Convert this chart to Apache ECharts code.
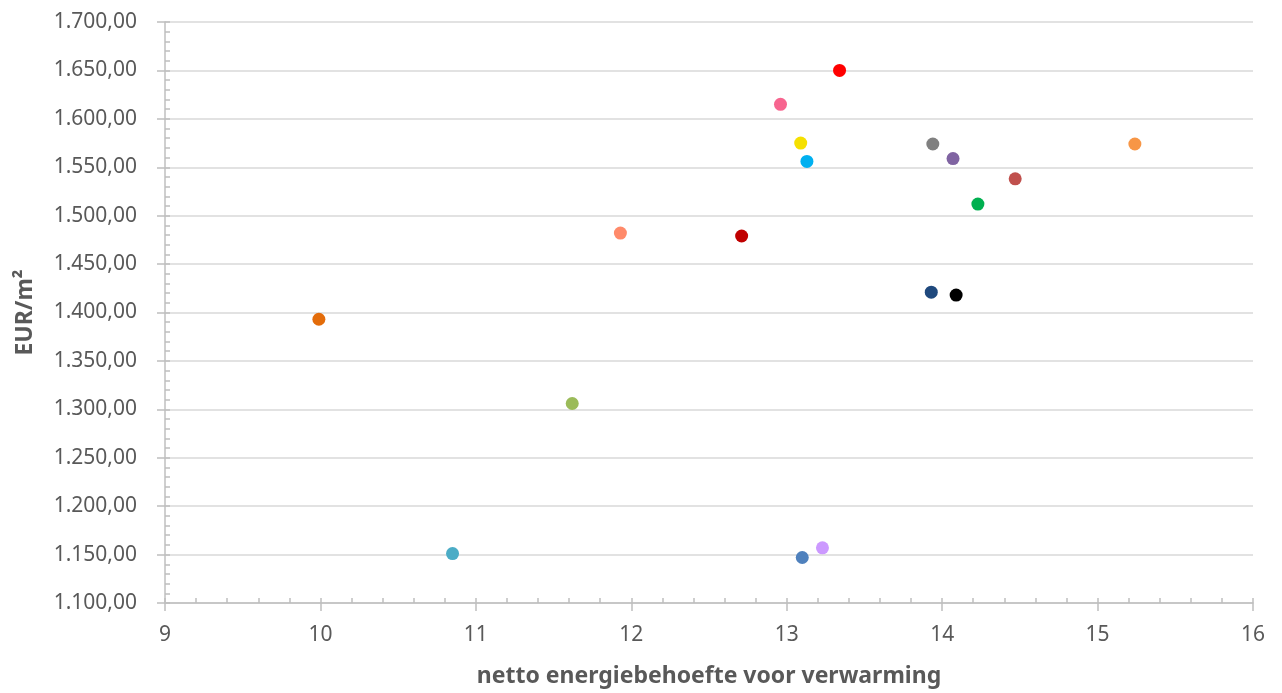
<!DOCTYPE html>
<html>
<head>
<meta charset="utf-8">
<script src="https://cdn.jsdelivr.net/npm/echarts@6/dist/echarts.min.js"></script>
<style>
html,body{margin:0;padding:0;background:#fff;}
#chart{width:1282px;height:693px;}
</style>
</head>
<body>
<div id="chart"></div>
<script>
// x: netto energiebehoefte voor verwarming, y: EUR/m2
const xValues = [9.99, 10.85, 11.62, 11.93, 12.71, 12.96, 13.09, 13.13, 13.34, 13.10, 13.23, 13.94, 13.93, 14.09, 14.07, 14.23, 14.47, 15.24];
const yValues = [1393, 1151, 1306, 1482, 1479, 1615, 1575, 1556, 1650, 1147, 1157, 1574, 1421, 1418, 1559, 1512, 1538, 1574];
const pointColors = ['#E36C0A', '#4BACC6', '#9BBB59', '#FF8A6A', '#C00000', '#F7658F', '#F5E000', '#00B0F0', '#FF0000', '#4F81BD', '#CC99FF', '#808080', '#1F497D', '#000000', '#8064A2', '#00B050', '#C0504D', '#F79646'];
const xTitle = 'netto energiebehoefte voor verwarming';
const yTitle = 'EUR/m²';

const FONT = '"Noto Sans", sans-serif';
const TXT = '#595959';

function fmtNL(v) {
  const fixed = v.toFixed(2);
  const parts = fixed.split('.');
  const intPart = parts[0].replace(/\B(?=(\d{3})+(?!\d))/g, '.');
  return intPart + ',' + parts[1];
}

const series = xValues.map((x, i) => ({
  type: 'scatter',
  name: 'Reeks ' + (i + 1),
  xAxisIndex: 0,
  yAxisIndex: 0,
  symbol: 'circle',
  symbolSize: 13,
  itemStyle: { color: pointColors[i], opacity: 1 },
  data: [[x, yValues[i]]]
}));

const option = {
  backgroundColor: '#ffffff',
  animation: false,
  grid: { left: 165, right: 29, top: 22, bottom: 85, containLabel: false },
  xAxis: [
    {
      type: 'value', min: 9, max: 16, interval: 1, position: 'bottom',
      name: xTitle, nameLocation: 'middle', nameGap: 62,
      nameTextStyle: { fontFamily: FONT, fontSize: 23, fontWeight: 'bold', color: TXT },
      axisLine: { show: true, onZero: false, lineStyle: { color: '#BFBFBF', width: 1.5 } },
      axisTick: { show: true, inside: false, length: 8, lineStyle: { color: '#BFBFBF', width: 1.5 } },
      axisLabel: { fontFamily: FONT, fontSize: 21, color: TXT, margin: 22 },
      splitLine: { show: false }
    },
    {
      type: 'value', min: 9, max: 16, interval: 0.2, position: 'bottom',
      axisLine: { show: false, onZero: false },
      axisTick: { show: true, inside: true, length: 5, lineStyle: { color: '#BFBFBF', width: 1.5 } },
      axisLabel: { show: false },
      splitLine: { show: false }
    }
  ],
  yAxis: [
    {
      type: 'value', min: 1100, max: 1700, interval: 50, position: 'left',
      name: yTitle, nameLocation: 'middle', nameGap: 128,
      nameTextStyle: { fontFamily: FONT, fontSize: 23, fontWeight: 'bold', color: TXT },
      axisLine: { show: true, onZero: false, lineStyle: { color: '#BFBFBF', width: 1.5 } },
      axisTick: { show: true, inside: false, length: 8, lineStyle: { color: '#BFBFBF', width: 1.5 } },
      axisLabel: { fontFamily: FONT, fontSize: 21, color: TXT, margin: 28, formatter: fmtNL },
      splitLine: { show: true, lineStyle: { color: '#D9D9D9', width: 1.5 } }
    },
    {
      type: 'value', min: 1100, max: 1700, interval: 10, position: 'left',
      axisLine: { show: false, onZero: false },
      axisTick: { show: true, inside: true, length: 5, lineStyle: { color: '#BFBFBF', width: 1.5 } },
      axisLabel: { show: false },
      splitLine: { show: false }
    }
  ],
  series: series
};

const chart = echarts.init(document.getElementById('chart'), null, { renderer: 'canvas' });
chart.setOption(option);
</script>
</body>
</html>
